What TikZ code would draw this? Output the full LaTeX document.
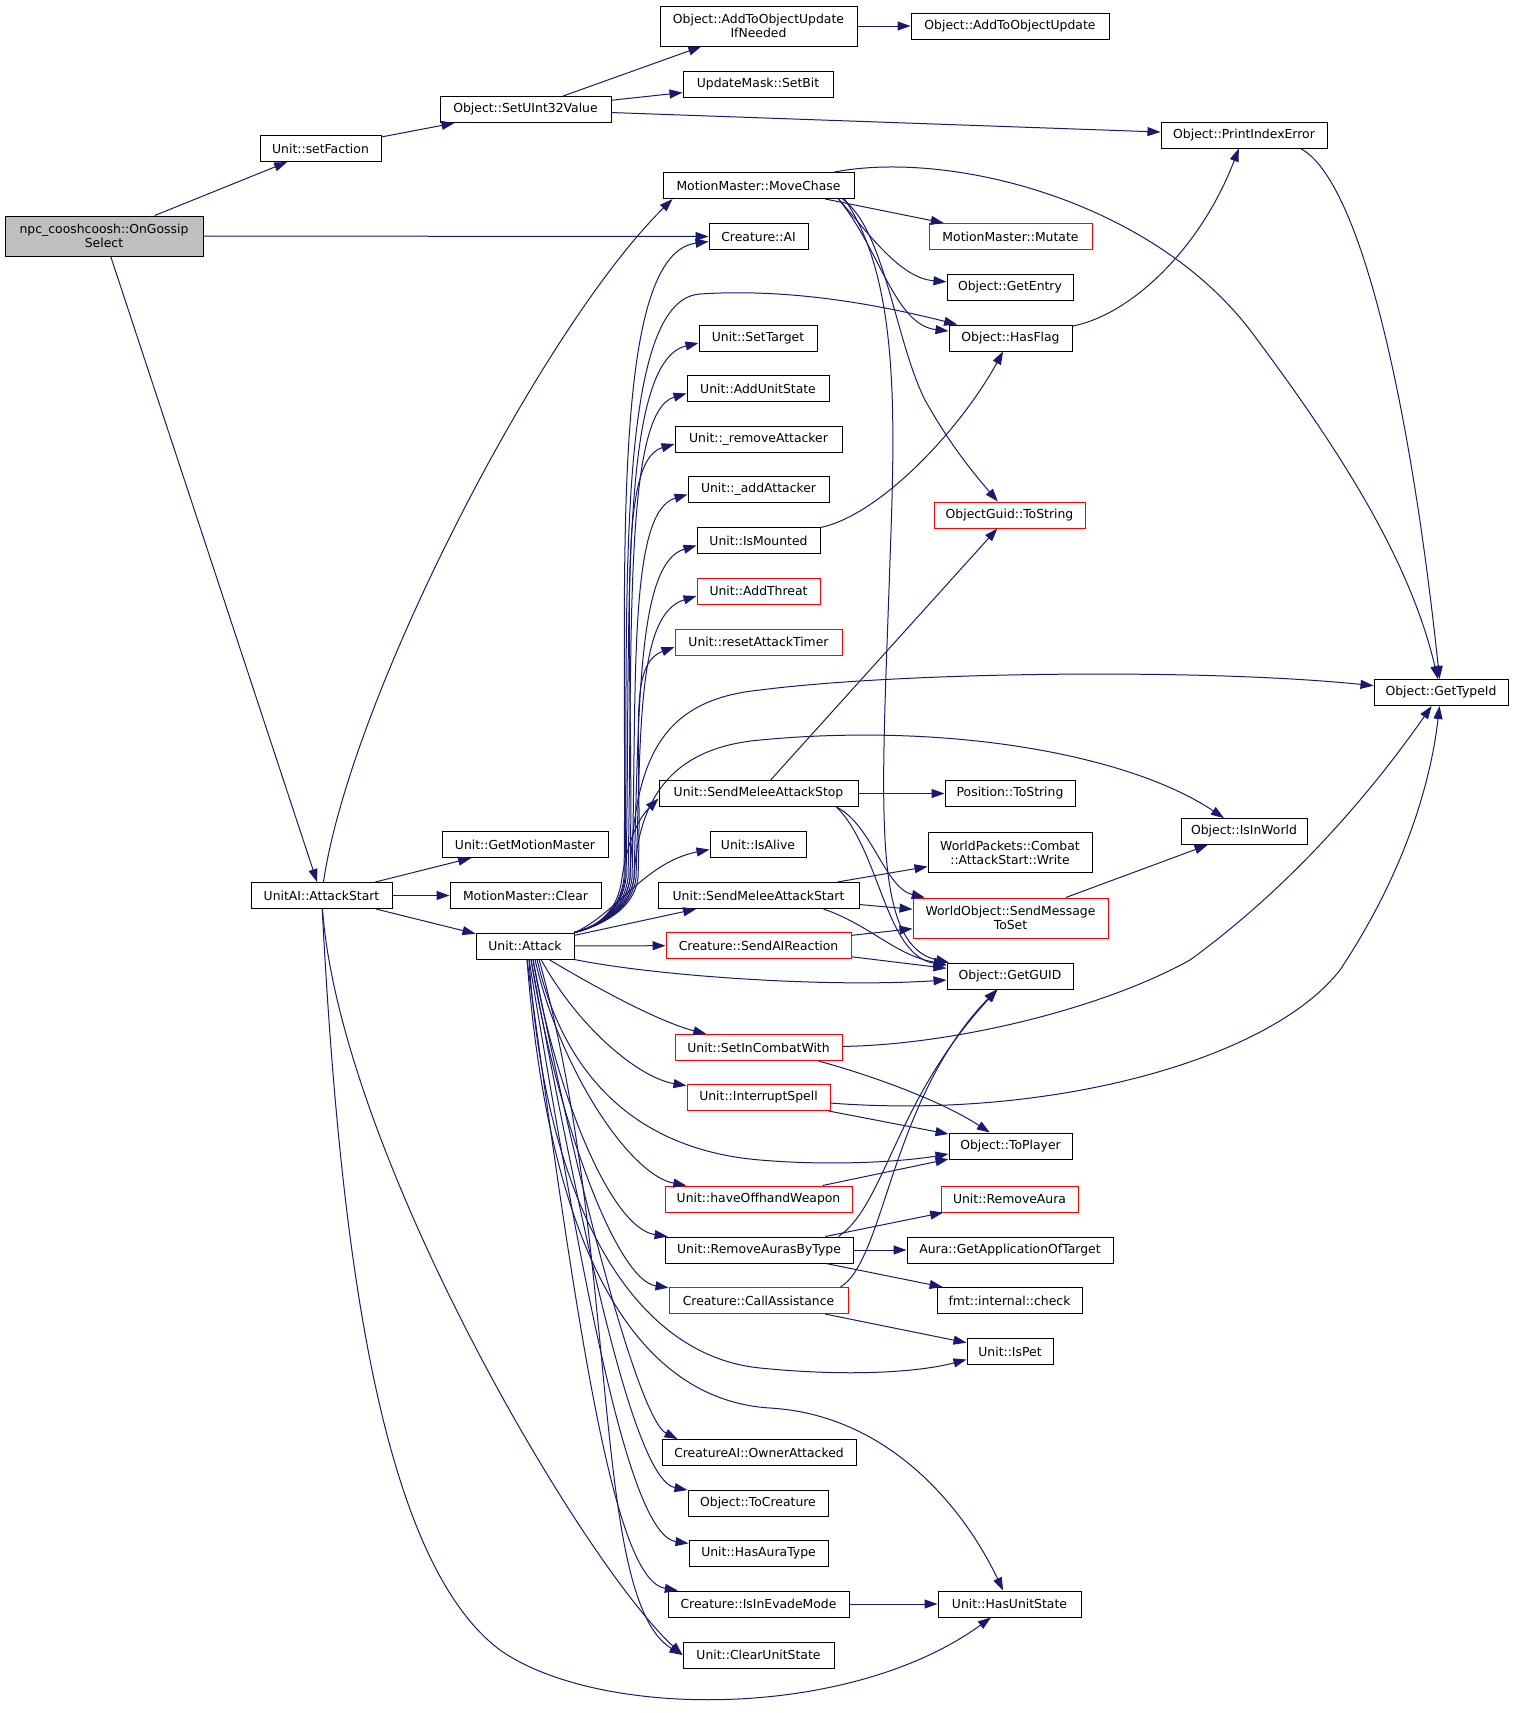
\documentclass[tikz,border=0pt]{standalone}
\usepackage{fontspec}
\setmainfont{DejaVu Sans}
\usetikzlibrary{arrows.meta}
\definecolor{edgeblue}{HTML}{191970}
\definecolor{rootgray}{HTML}{BFBFBF}
\tikzset{
  box/.style={draw=black, line width=1pt, fill=white, minimum height=26pt, inner sep=0pt,
    font=\fontsize{12.4}{14}\selectfont, align=center, text=black},
  rbox/.style={box, draw=red},
  tall/.style={minimum height=40pt},
  e/.style={draw=edgeblue, line width=1pt, -{Triangle[length=13pt,width=9pt]}},
}
\begin{document}
\begin{tikzpicture}[x=1pt,y=-1pt]
\fill[white] (0,0) rectangle (1513,1713);
\useasboundingbox (0,0) rectangle (1513,1713);
% nodes
\node[box,tall,minimum width=197pt] (aitouin) at (758.5,26) {Object::AddToObjectUpdate\\IfNeeded};
\node[box,minimum width=198pt] (aitou) at (1010,26) {Object::AddToObjectUpdate};
\node[box,minimum width=150pt] (setbit) at (758,84.5) {UpdateMask::SetBit};
\node[box,minimum width=171pt] (setuint) at (525.5,109.5) {Object::SetUInt32Value};
\node[box,minimum width=166pt] (printerr) at (1244,135) {Object::PrintIndexError};
\node[box,minimum width=121pt] (setfaction) at (320.5,148.5) {Unit::setFaction};
\node[box,minimum width=191pt] (movechase) at (758.5,185.5) {MotionMaster::MoveChase};
\node[box,tall,minimum width=198pt,fill=rootgray] (npc) at (104,236) {npc\_cooshcoosh::OnGossip\\Select};
\node[box,minimum width=99pt] (ai) at (758.5,236.5) {Creature::AI};
\node[rbox,minimum width=163pt] (mutate) at (1010.5,236.5) {MotionMaster::Mutate};
\node[box,minimum width=126pt] (getentry) at (1010,287) {Object::GetEntry};
\node[box,minimum width=123pt] (hasflag) at (1010.5,338) {Object::HasFlag};
\node[box,minimum width=118pt] (settarget) at (758,338) {Unit::SetTarget};
\node[box,minimum width=142pt] (addunitstate) at (758,388.5) {Unit::AddUnitState};
\node[box,minimum width=167pt] (removeatt) at (758.5,439) {Unit::\_removeAttacker};
\node[box,minimum width=141pt] (addatt) at (758.5,489.5) {Unit::\_addAttacker};
\node[rbox,minimum width=151pt] (tostr) at (1009.5,515) {ObjectGuid::ToString};
\node[box,minimum width=123pt] (ismounted) at (758.5,540.5) {Unit::IsMounted};
\node[rbox,minimum width=123pt] (addthreat) at (758.5,591) {Unit::AddThreat};
\node[rbox,minimum width=167pt] (resettimer) at (758.5,642) {Unit::resetAttackTimer};
\node[box,minimum width=134pt] (gettypeid) at (1441,692.5) {Object::GetTypeId};
\node[box,minimum width=199pt] (sendstop) at (758.5,793.5) {Unit::SendMeleeAttackStop};
\node[box,minimum width=130pt] (postostr) at (1010,793.5) {Position::ToString};
\node[box,minimum width=126pt] (isinworld) at (1244,831.5) {Object::IsInWorld};
\node[box,minimum width=166pt] (getmm) at (525,844.5) {Unit::GetMotionMaster};
\node[box,minimum width=96pt] (isalive) at (758,844.5) {Unit::IsAlive};
\node[box,tall,minimum width=164pt] (wpwrite) at (1010,852.5) {WorldPackets::Combat\\::AttackStart::Write};
\node[box,minimum width=141pt] (attstart) at (321.5,895.5) {UnitAI::AttackStart};
\node[box,minimum width=151pt] (mmclear) at (525.5,895.5) {MotionMaster::Clear};
\node[box,minimum width=201pt] (sendstart) at (758.5,895.5) {Unit::SendMeleeAttackStart};
\node[rbox,tall,minimum width=195pt] (sendmsg) at (1010.5,918) {WorldObject::SendMessage\\ToSet};
\node[box,minimum width=98pt] (attack) at (525,946) {Unit::Attack};
\node[rbox,minimum width=185pt] (aireact) at (758.5,945.5) {Creature::SendAIReaction};
\node[box,minimum width=126pt] (getguid) at (1010,976) {Object::GetGUID};
\node[rbox,minimum width=167pt] (setincombat) at (758.5,1047.5) {Unit::SetInCombatWith};
\node[rbox,minimum width=143pt] (interrupt) at (758.5,1097.5) {Unit::InterruptSpell};
\node[box,minimum width=123pt] (toplayer) at (1010.5,1146) {Object::ToPlayer};
\node[rbox,minimum width=187pt] (offhand) at (758.5,1199) {Unit::haveOffhandWeapon};
\node[rbox,minimum width=137pt] (removeaura) at (1009.5,1199) {Unit::RemoveAura};
\node[box,minimum width=188pt] (removeauras) at (759,1250) {Unit::RemoveAurasByType};
\node[box,minimum width=206pt] (getapp) at (1010,1250) {Aura::GetApplicationOfTarget};
\node[rbox,minimum width=179pt] (callassist) at (758.5,1300.5) {Creature::CallAssistance};
\node[box,minimum width=145pt] (fmtcheck) at (1009.5,1300.5) {fmt::internal::check};
\node[box,minimum width=86pt] (ispet) at (1010,1351.5) {Unit::IsPet};
\node[box,minimum width=194pt] (ownerattacked) at (759,1452.5) {CreatureAI::OwnerAttacked};
\node[box,minimum width=140pt] (tocreature) at (758,1503.5) {Object::ToCreature};
\node[box,minimum width=139pt] (hasauratype) at (758.5,1553.5) {Unit::HasAuraType};
\node[box,minimum width=181pt] (isinevade) at (758.5,1604) {Creature::IsInEvadeMode};
\node[box,minimum width=143pt] (hasunitstate) at (1009.5,1604) {Unit::HasUnitState};
\node[box,minimum width=151pt] (clearunitstate) at (758.5,1655) {Unit::ClearUnitState};
% edges: top part
\draw[e] (npc) -- (setfaction);
\draw[e] (npc) -- (ai);
\draw[e] (npc) -- (attstart);
\draw[e] (setfaction) -- (setuint);
\draw[e] (setuint) -- (aitouin);
\draw[e] (setuint) -- (setbit);
\draw[e] (setuint) -- (printerr);
\draw[e] (aitouin) -- (aitou);
% AttackStart
\draw[e] (attstart) .. controls (350,700) and (540,330) .. ([xshift=10pt]movechase.south west);
\draw[e] (attstart) -- (getmm);
\draw[e] (attstart) -- (mmclear);
\draw[e] (attstart) -- (attack);
\draw[e] (attstart) .. controls (340,1150) and (580,1560) .. (clearunitstate.west);
\draw[e] (attstart) .. controls (340,1250) and (380,1560) .. (500,1650) .. controls (600,1720) and (850,1720) .. (hasunitstate);
% MoveChase
\draw[e] ([xshift=-20pt]movechase.north east) .. controls (950,150) and (1150,200) .. (1250,330) .. controls (1340,450) and (1410,560) .. (gettypeid);
\draw[e] (movechase) -- (mutate);
\draw[e] ([xshift=-16pt]movechase.south east) .. controls (870,235) and (900,278) .. (getentry);
\draw[e] ([xshift=-16pt]movechase.south east) .. controls (880,250) and (895,325) .. (hasflag);
\draw[e] ([xshift=-12pt]movechase.south east) .. controls (885,230) and (895,340) .. (925,400) .. controls (950,445) and (975,475) .. (tostr);
\draw[e] ([xshift=-10pt]movechase.south east) .. controls (900,280) and (895,420) .. (890,560) .. controls (882,800) and (870,945) .. (getguid);
\draw[e] ([xshift=-27pt]printerr.south east) .. controls (1360,180) and (1410,400) .. (gettypeid);
\draw[e] (hasflag) .. controls (1130,315) and (1200,250) .. (printerr);
\draw[e] (ismounted) .. controls (880,515) and (960,430) .. (hasflag);
% Attack upward fan
\draw[e] (attack.north east) .. controls (600,926) and (620,910) .. (624,878) .. controls (628,600) and (606,255) .. ([yshift=-5pt]ai.west);
\draw[e] (attack.north east) .. controls (600,926) and (621,910) .. (625,878) .. controls (629,620) and (612,300) .. (700,294) .. controls (790,288) and (880,305) .. (hasflag);
\draw[e] (attack.north east) .. controls (600,926) and (622,910) .. (626,878) .. controls (631,620) and (618,362) .. ([yshift=-5pt]settarget.west);
\draw[e] (attack.north east) .. controls (600,926) and (624,910) .. (628,878) .. controls (633,640) and (623,412) .. ([yshift=-5pt]addunitstate.west);
\draw[e] (attack.north east) .. controls (600,926) and (626,910) .. (630,878) .. controls (635,660) and (613,462) .. ([yshift=-5pt]removeatt.west);
\draw[e] (attack.north east) .. controls (600,926) and (628,910) .. (632,878) .. controls (637,680) and (628,512) .. ([yshift=-5pt]addatt.west);
\draw[e] (attack.north east) .. controls (600,926) and (630,910) .. (634,878) .. controls (639,700) and (638,563) .. ([yshift=-5pt]ismounted.west);
\draw[e] (attack.north east) .. controls (600,926) and (632,910) .. (636,878) .. controls (641,720) and (638,614) .. ([yshift=-5pt]addthreat.west);
\draw[e] (attack.north east) .. controls (600,926) and (634,910) .. (638,878) .. controls (643,740) and (626,665) .. ([yshift=-5pt]resettimer.west);
\draw[e] (attack.north east) .. controls (600,926) and (626,910) .. (630,878) .. controls (634,760) and (660,700) .. (760,690) .. controls (900,672) and (1200,668) .. (gettypeid);
\draw[e] (attack.north east) .. controls (600,926) and (630,910) .. (634,878) .. controls (638,800) and (670,748) .. (760,740) .. controls (950,722) and (1130,755) .. (isinworld);
\draw[e] (attack.north east) .. controls (600,926) and (618,910) .. (622,878) .. controls (626,850) and (635,822) .. ([yshift=-5pt]sendstop.west);
\draw[e] (attack.north east) .. controls (615,915) and (645,862) .. ([yshift=-5pt]isalive.west);
\draw[e] (attack) -- (sendstart);
\draw[e] (attack) -- (aireact);
\draw[e] (attack.south east) .. controls (650,975) and (820,988) .. (getguid);
% Attack downward fan
\draw[e] ([xshift=24pt]attack.south) .. controls (600,990) and (660,1022) .. (setincombat);
\draw[e] ([xshift=16pt]attack.south) .. controls (580,1030) and (640,1078) .. (interrupt);
\draw[e] ([xshift=12pt]attack.south) .. controls (565,1080) and (640,1150) .. (760,1160) .. controls (830,1166) and (900,1162) .. ([yshift=-8pt]toplayer.west);
\draw[e] ([xshift=10pt]attack.south) .. controls (560,1070) and (630,1175) .. (offhand);
\draw[e] ([xshift=8pt]attack.south) .. controls (555,1090) and (610,1228) .. (removeauras);
\draw[e] ([xshift=6pt]attack.south) .. controls (555,1110) and (615,1280) .. (callassist);
\draw[e] ([xshift=4pt]attack.south) .. controls (545,1200) and (630,1355) .. (760,1368) .. controls (850,1377) and (920,1372) .. ([yshift=-8pt]ispet.west);
\draw[e] ([xshift=2pt]attack.south) .. controls (550,1260) and (640,1400) .. (770,1408) .. controls (890,1415) and (965,1510) .. (hasunitstate);
\draw[e] ([xshift=8pt]attack.south) .. controls (580,1200) and (640,1420) .. ([xshift=16pt]ownerattacked.north west);
\draw[e] ([xshift=6pt]attack.south) .. controls (585,1250) and (635,1480) .. (tocreature);
\draw[e] ([xshift=4pt]attack.south) .. controls (585,1300) and (630,1535) .. (hasauratype);
\draw[e] ([xshift=2pt]attack.south) .. controls (580,1350) and (615,1580) .. (isinevade);
\draw[e] ([xshift=14pt]attack.south) .. controls (620,1250) and (590,1600) .. (clearunitstate.west);
% SendMeleeAttackStop
\draw[e] (sendstop) -- (tostr);
\draw[e] (sendstop) -- (postostr);
\draw[e] ([xshift=-22pt]sendstop.south east) .. controls (872,825) and (885,888) .. (sendmsg);
\draw[e] ([xshift=-22pt]sendstop.south east) .. controls (880,850) and (885,955) .. (getguid);
% SendMeleeAttackStart
\draw[e] (sendstart) -- (wpwrite);
\draw[e] (sendstart) -- (sendmsg);
\draw[e] ([xshift=-36pt]sendstart.south east) .. controls (870,925) and (895,955) .. (getguid);
% SendAIReaction
\draw[e] (aireact) -- (sendmsg);
\draw[e] (aireact) -- (getguid);
\draw[e] (sendmsg) -- (isinworld);
% SetInCombatWith, InterruptSpell
\draw[e] (setincombat) .. controls (950,1045) and (1100,1010) .. (1190,960) .. controls (1300,880) and (1380,780) .. (gettypeid);
\draw[e] ([xshift=-24pt]setincombat.south east) .. controls (870,1075) and (940,1100) .. (toplayer);
\draw[e] (interrupt) .. controls (1050,1120) and (1270,1060) .. (1340,970) .. controls (1400,880) and (1430,790) .. (gettypeid);
\draw[e] (interrupt) -- (toplayer);
\draw[e] (offhand) -- (toplayer);
% RemoveAurasByType, CallAssistance
\draw[e] (removeauras) -- (removeaura);
\draw[e] (removeauras) -- (getapp);
\draw[e] (removeauras) -- (fmtcheck);
\draw[e] ([xshift=-15pt]removeauras.north east) .. controls (885,1205) and (895,1100) .. (getguid);
\draw[e] ([xshift=-8pt]callassist.north east) .. controls (885,1260) and (890,1100) .. (getguid);
\draw[e] (callassist) -- (ispet);
\draw[e] (isinevade) -- (hasunitstate);
\end{tikzpicture}
\end{document}
